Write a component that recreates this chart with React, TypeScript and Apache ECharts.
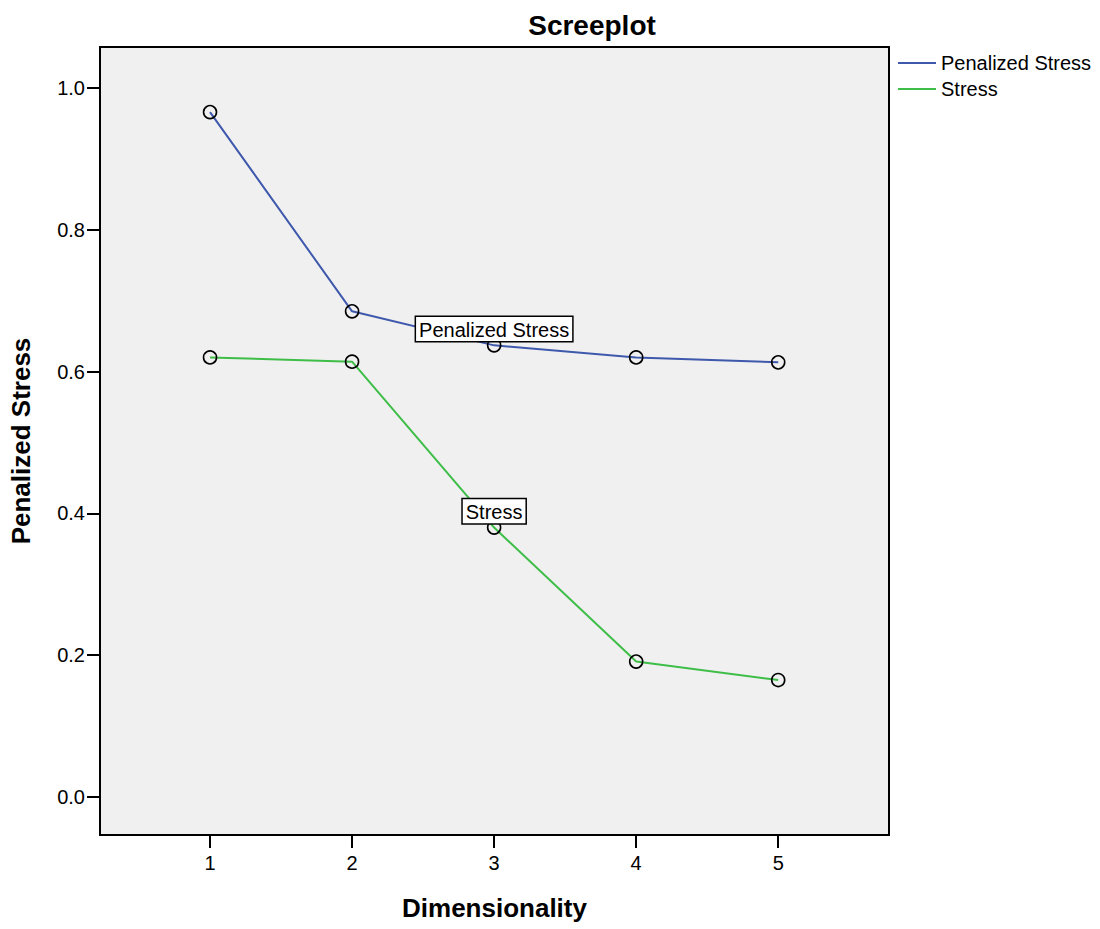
import React, { useEffect, useRef } from "react";
import * as echarts from "echarts";

const dimensions = [1, 2, 3, 4, 5];
const penalizedStress = [0.966, 0.685, 0.637, 0.62, 0.613];
const stress = [0.62, 0.614, 0.38, 0.191, 0.165];
const yTicks = [0, 0.2, 0.4, 0.6, 0.8, 1.0];
const xTicks = [1, 2, 3, 4, 5];
const labelIndex = 2;

const FONT = "'Liberation Sans', Arial, sans-serif";

export default function App() {
  const ref = useRef<HTMLDivElement>(null);
  useEffect(() => {
    if (!ref.current) return;
    const chart = echarts.init(ref.current, null, { renderer: "svg" });
    const mk = (name: string, vals: number[], color: string) => ({
      name,
      type: "line",
      data: dimensions.map((d, i) => ({
        value: [d, vals[i]],
        label:
          i === labelIndex
            ? {
                show: true,
                position: "top",
                distance: -3,
                formatter: name,
                color: "#000",
                fontSize: 20,
                fontFamily: FONT,
                backgroundColor: "#fff",
                borderColor: "#000",
                borderWidth: 1.5,
                padding: [3, 3, 1, 3],
              }
            : { show: false },
      })),
      symbol: "circle",
      symbolSize: 13,
      showAllSymbol: true,
      itemStyle: { color: "rgba(0,0,0,0)", borderColor: "#000", borderWidth: 1.6 },
      lineStyle: { color, width: 2 },
      color,
      z: 3,
    });
    chart.setOption({
      animation: false,
      textStyle: { fontFamily: FONT },
      title: {
        text: "Screeplot",
        left: 587,
        textAlign: "center",
        top: 6,
        textStyle: { fontSize: 28, fontWeight: "bold", color: "#000", fontFamily: FONT },
      },
      legend: {
        orient: "vertical",
        left: 893,
        top: 48,
        itemWidth: 38,
        itemHeight: 20,
        itemGap: 6,
        icon: "path://M0,0 L38,0 L38,2 L0,2 Z",
        data: [
          { name: "Penalized Stress", itemStyle: { color: "#3E58AC" } },
          { name: "Stress", itemStyle: { color: "#3EBE48" } },
        ],
        textStyle: { fontSize: 20, color: "#000", fontFamily: FONT },
        itemStyle: { borderWidth: 0 },
      },
      grid: {
        left: 100,
        top: 47,
        width: 789,
        height: 788,
        show: true,
        backgroundColor: "#F0F0F0",
        borderColor: "#000",
        borderWidth: 2,
      },
      xAxis: {
        type: "value",
        min: 0.2254,
        max: 5.78,
        name: "Dimensionality",
        nameLocation: "middle",
        nameGap: 60,
        nameTextStyle: { fontSize: 26, fontWeight: "bold", color: "#000", fontFamily: FONT },
        axisLine: { show: true, onZero: false, lineStyle: { color: "#000", width: 2 } },
        axisTick: { show: true, length: 13, lineStyle: { color: "#000", width: 2 }, customValues: xTicks },
        axisLabel: { fontSize: 20, color: "#000", margin: 18, customValues: xTicks, formatter: (v: number) => String(v) },
        splitLine: { show: false },
      },
      yAxis: {
        type: "value",
        min: -0.0536,
        max: 1.0578,
        name: "Penalized Stress",
        nameLocation: "middle",
        nameGap: 66,
        nameTextStyle: { fontSize: 26, fontWeight: "bold", color: "#000", fontFamily: FONT },
        axisLine: { show: true, onZero: false, lineStyle: { color: "#000", width: 2 } },
        axisTick: { show: true, length: 13, lineStyle: { color: "#000", width: 2 }, customValues: yTicks },
        axisLabel: { fontSize: 20, color: "#000", margin: 15, customValues: yTicks, formatter: (v: number) => v.toFixed(1) },
        splitLine: { show: false },
      },
      series: [mk("Penalized Stress", penalizedStress, "#3E58AC"), mk("Stress", stress, "#3EBE48")],
    });
    return () => chart.dispose();
  }, []);
  return <div ref={ref} style={{ position: "absolute", left: 0, top: 0, width: 1100, height: 929 }} />;
}
